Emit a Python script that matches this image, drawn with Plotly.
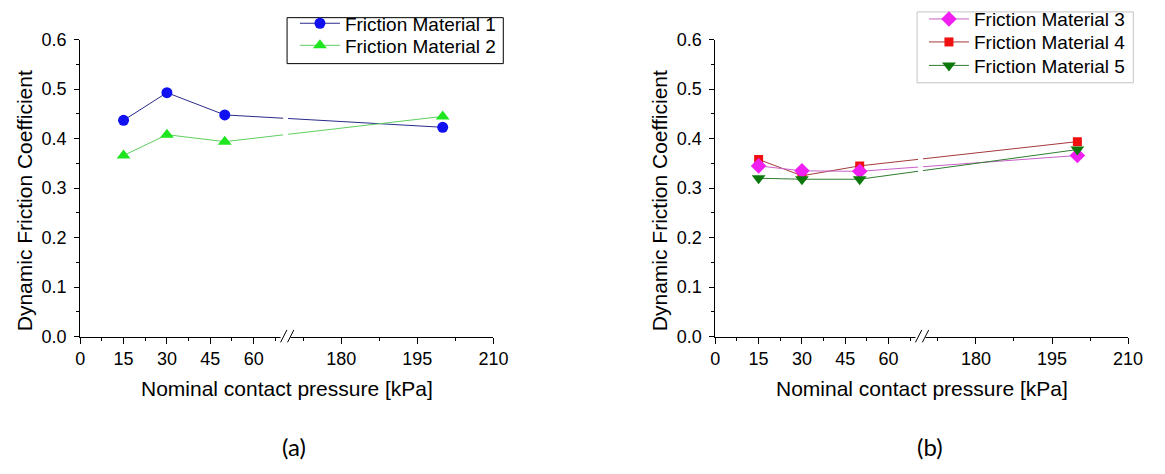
import plotly.graph_objects as go

# ---------------- data ----------------
pressure = [15, 30, 50, 200]  # kPa
fm1 = [0.437, 0.493, 0.448, 0.423]
fm2 = [0.366, 0.408, 0.394, 0.445]
fm3 = [0.345, 0.335, 0.334, 0.366]
fm4 = [0.358, 0.325, 0.345, 0.394]
fm5 = [0.320, 0.318, 0.318, 0.378]

major_ticks = [0, 15, 30, 45, 60, 180, 195, 210]
minor_ticks = [7.5, 22.5, 37.5, 52.5, 67.5, 172.5, 187.5, 202.5]
y_ticks = [0.0, 0.1, 0.2, 0.3, 0.4, 0.5, 0.6]

x_title = "Nominal contact pressure [kPa]"
y_title = "Dynamic Friction Coefficient"

# broken x-axis: segment 0..70 and 170..210 (second segment stretched)
SEG1_END, SEG2_START, GAP, K = 70, 170, 2.69, 1.756


def brk(x):
    return x if x <= SEG1_END else SEG1_END + GAP + (x - SEG2_START) * K


U_MAX = brk(210)

FONT = "Liberation Sans"
W, H = 1165, 474

fig = go.Figure()

# (name, values, symbol, marker colour, line colour, size, legend id, legend row y px, legend left px)
series_a = [
    ("Friction Material 1", fm1, "circle", "#1010f0", "#2a2a8c", 11, "legend", 14, 295),
    ("Friction Material 2", fm2, "triangle-up", "#1ee61e", "#5fcf5f", 12, "legend2", 37, 295),
]
for name, vals, sym, mc, lc, sz, lg, _, _ in series_a:
    fig.add_trace(go.Scatter(
        x=[brk(p) for p in pressure], y=vals, name=name,
        mode="lines+markers", xaxis="x", yaxis="y", legend=lg,
        line=dict(color=lc, width=1),
        marker=dict(symbol=sym, size=sz, color=mc, line=dict(width=0)),
    ))

series_b = [
    ("Friction Material 4", fm4, "square", "#f01010", "#a33a3a", 9, "legend4", 33.5, 935),
    ("Friction Material 3", fm3, "diamond", "#f020f0", "#c860c8", 12, "legend3", 9.5, 935),
    ("Friction Material 5", fm5, "triangle-down", "#0a780a", "#2e7d2e", 12, "legend5", 58, 935),
]
for name, vals, sym, mc, lc, sz, lg, _, _ in series_b:
    fig.add_trace(go.Scatter(
        x=[brk(p) for p in pressure], y=vals, name=name,
        mode="lines+markers", xaxis="x2", yaxis="y2", legend=lg,
        line=dict(color=lc, width=1),
        marker=dict(symbol=sym, size=sz, color=mc, line=dict(width=0)),
    ))

xa_dom = [76.5 / W, 497 / W]
xb_dom = [722.7 / W, 1142.7 / W]
y_dom = [1 - 341 / H, 1 - 31 / H]


def xaxis(domain, anchor):
    return dict(
        domain=domain, anchor=anchor, range=[0, U_MAX],
        tickmode="array", tickvals=[brk(t) for t in major_ticks],
        ticktext=[str(t) for t in major_ticks],
        ticks="outside", ticklen=6, tickwidth=1, tickcolor="black",
        minor=dict(tickmode="array", tickvals=[brk(t) for t in minor_ticks],
                   ticks="outside", ticklen=3, tickwidth=1, tickcolor="black"),
        showline=True, linecolor="black", linewidth=1,
        showgrid=False, zeroline=False,
        tickfont=dict(family=FONT, size=18, color="black"),
    )


def yaxis(anchor):
    return dict(
        domain=y_dom, anchor=anchor, range=[0, 0.6],
        tickmode="array", tickvals=y_ticks,
        ticktext=[f"{v:.1f}" for v in y_ticks],
        ticks="outside", ticklen=5, tickwidth=1, tickcolor="black",
        minor=dict(dtick=0.05, ticks="outside", ticklen=3, tickwidth=1,
                   tickcolor="black"),
        showline=True, linecolor="black", linewidth=1,
        showgrid=False, zeroline=False, ticklabelstandoff=4,
        tickfont=dict(family=FONT, size=18, color="black"),
    )


shapes = []
px_per_y = 310.0
for xr, yr in (("x domain", "y domain"), ("x2 domain", "y2 domain")):
    # gap in the data lines at the break
    shapes.append(dict(type="rect", xref=xr, yref=yr, layer="above",
                       x0=70.2 / U_MAX, x1=71.9 / U_MAX,
                       y0=0.02, y1=1.0, fillcolor="white",
                       line=dict(width=0)))
    # gap in the axis line
    shapes.append(dict(type="rect", xref=xr, yref=yr, layer="above",
                       x0=69.3 / U_MAX, x1=72.8 / U_MAX,
                       y0=-3 / px_per_y, y1=3 / px_per_y, fillcolor="white",
                       line=dict(width=0)))
    # the two break slashes
    for a in (69.3, 71.7):
        shapes.append(dict(type="line", xref=xr, yref=yr, layer="above",
                           x0=a / U_MAX, x1=(a + 2.2) / U_MAX,
                           y0=-6 / px_per_y, y1=7 / px_per_y,
                           line=dict(color="black", width=1)))

# legend frames
shapes.append(dict(type="rect", xref="paper", yref="paper", layer="above",
                   x0=287 / W, x1=507 / W, y0=1 - 56 / H, y1=1 - 8 / H,
                   line=dict(color="black", width=1),
                   fillcolor="rgba(0,0,0,0)"))
shapes.append(dict(type="rect", xref="paper", yref="paper", layer="above",
                   x0=928 / W, x1=1148 / W, y0=1 - 76 / H, y1=1 - 2 / H,
                   line=dict(color="#c4c4c4", width=1),
                   fillcolor="rgba(0,0,0,0)"))

title_font = dict(family=FONT, size=21, color="black")
annotations = [
    dict(text="(a)", x=294 / W, y=1 - 456 / H, xref="paper", yref="paper",
         xanchor="center", yanchor="middle", showarrow=False,
         font=dict(family="Lato, Open Sans, sans-serif", size=24, color="black")),
    dict(text="(b)", x=941 / W, y=1 - 456 / H, xref="paper", yref="paper",
         xanchor="center", yanchor="middle", showarrow=False,
         font=dict(family="Lato, Open Sans, sans-serif", size=24, color="black")),
    dict(text=x_title, x=287 / W, y=1 - 395 / H, xref="paper", yref="paper",
         xanchor="center", yanchor="middle", showarrow=False, font=title_font),
    dict(text=x_title, x=933 / W, y=1 - 395 / H, xref="paper", yref="paper",
         xanchor="center", yanchor="middle", showarrow=False, font=title_font),
    dict(text=y_title, x=20 / W, y=1 - 199 / H, xref="paper", yref="paper",
         xanchor="center", yanchor="middle", textangle=-90, showarrow=False,
         font=title_font),
    dict(text=y_title, x=666 / W, y=1 - 199 / H, xref="paper", yref="paper",
         xanchor="center", yanchor="middle", textangle=-90, showarrow=False,
         font=title_font),
]

legends = {}
for name, vals, sym, mc, lc, sz, lg, row_y, left in series_a + series_b:
    legends[lg] = dict(x=left / W, y=1 - row_y / H, xanchor="left",
                       yanchor="middle", borderwidth=0,
                       bgcolor="rgba(0,0,0,0)",
                       font=dict(family=FONT, size=19, color="black"),
                       itemwidth=40)

fig.update_layout(
    width=W, height=H, margin=dict(l=0, r=0, t=0, b=0),
    paper_bgcolor="white", plot_bgcolor="white",
    xaxis=xaxis(xa_dom, "y"), yaxis=yaxis("x"),
    xaxis2=xaxis(xb_dom, "y2"), yaxis2=yaxis("x2"),
    shapes=shapes, annotations=annotations,
    showlegend=True,
    **legends,
)

fig.write_html("out.html")
